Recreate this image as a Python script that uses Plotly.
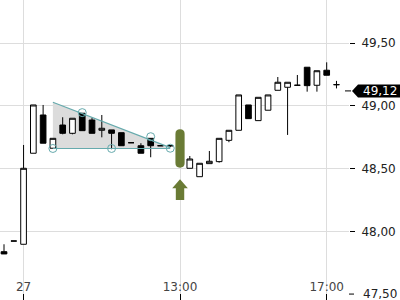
import plotly.graph_objects as go

# ---- data ----
idx = list(range(35))
opens  = [47.838, 47.923, 47.897, 48.623, 48.928, 48.663, 48.848, 48.782, 48.942, 48.888,
          48.806, 48.809, 48.787, 48.707, 48.683, 48.742, 48.683, 48.683, 48.663, 48.503,
          48.436, 48.540, 48.556, 48.726, 48.806, 49.008, 48.883, 48.966, 49.125, 49.149,
          49.165, 49.309, 49.165, 49.285, 49.170]
highs  = [47.897, 47.923, 48.689, 49.008, 49.008, 48.742, 48.910, 48.902, 48.942, 48.907,
          48.928, 48.809, 48.787, 48.707, 48.703, 48.742, 48.683, 48.683, 48.663, 48.601,
          48.543, 48.641, 48.742, 48.806, 49.088, 49.008, 49.069, 49.088, 49.231, 49.189,
          49.247, 49.309, 49.281, 49.348, 49.200]
lows   = [47.820, 47.923, 47.897, 48.623, 48.703, 48.663, 48.774, 48.774, 48.803, 48.782,
          48.750, 48.655, 48.683, 48.707, 48.623, 48.591, 48.683, 48.672, 48.663, 48.503,
          48.436, 48.540, 48.548, 48.711, 48.806, 48.899, 48.883, 48.966, 49.125, 48.769,
          49.165, 49.114, 49.114, 49.245, 49.140]
closes = [47.820, 47.923, 48.503, 49.008, 48.703, 48.742, 48.782, 48.902, 48.803, 48.782,
          48.822, 48.782, 48.683, 48.707, 48.623, 48.683, 48.683, 48.683, 48.663, 48.577,
          48.543, 48.559, 48.742, 48.806, 49.088, 48.899, 49.069, 49.088, 49.189, 49.189,
          49.165, 49.162, 49.281, 49.245, 49.170]

x_tick_pos = [2, 18, 33]
x_tick_text = ["27", "13:00", "17:00"]
y_ticks = [47.5, 48.0, 48.5, 49.0, 49.5]
edge_tick = 47.5
edge_tick_text = "47,50"

# pattern (triangle)
tri_top_x = [5, 17]
tri_top_y = [49.03, 48.668]
tri_bot_x = [5, 17]
tri_bot_y = [48.661, 48.661]
pivot_x = [5, 8, 11, 15, 17]
pivot_y = [48.661, 48.947, 48.661, 48.755, 48.663]

# signal
signal_idx = 18
signal_pill = [48.508, 48.814]
arrow_levels = [48.25, 48.344, 48.415]   # bottom, head base, tip
last_price = 49.12
last_price_text = "49,12"

TEAL = "#66aaad"
GREEN = "#6a7b35"
GRID = "#dddddd"
FONT = "DejaVu Sans"

fig = go.Figure()

# triangle fill, drawn between gridlines and traces
tri_path = (f"M {tri_top_x[0]},{tri_top_y[0]} L {tri_top_x[1]},{tri_top_y[1]} "
            f"L {tri_bot_x[1]},{tri_bot_y[1]} L {tri_bot_x[0]},{tri_bot_y[0]} Z")
fig.add_shape(type="path", path=tri_path, xref="x", yref="y",
              fillcolor="#dcdcdc", line=dict(width=0), layer="between")

fig.add_trace(go.Candlestick(
    x=idx, open=opens, high=highs, low=lows, close=closes,
    increasing=dict(line=dict(color="black", width=1), fillcolor="white"),
    decreasing=dict(line=dict(color="black", width=1), fillcolor="black"),
    whiskerwidth=0, hoverinfo="skip", showlegend=False))

fig.add_trace(go.Scatter(x=tri_top_x, y=tri_top_y, mode="lines",
                         line=dict(color=TEAL, width=1.2), hoverinfo="skip", showlegend=False))
fig.add_trace(go.Scatter(x=tri_bot_x, y=tri_bot_y, mode="lines",
                         line=dict(color=TEAL, width=1.2), hoverinfo="skip", showlegend=False))
fig.add_trace(go.Scatter(x=pivot_x, y=pivot_y, mode="markers",
                         marker=dict(symbol="circle-open", size=8, color=TEAL, line=dict(width=1)),
                         hoverinfo="skip", showlegend=False))

# signal pill (rounded rect)
xc = signal_idx
hw = 0.47
yb, yt = signal_pill
ry = 0.037
x0, x1 = xc - hw, xc + hw
pill = (f"M {x0},{yt-ry} Q {x0},{yt} {xc},{yt} Q {x1},{yt} {x1},{yt-ry} "
        f"L {x1},{yb+ry} Q {x1},{yb} {xc},{yb} Q {x0},{yb} {x0},{yb+ry} Z")
fig.add_shape(type="path", path=pill, xref="x", yref="y",
              fillcolor=GREEN, line=dict(width=0), layer="above")

# arrow
ab, ah, atip = arrow_levels
hh, sh = 0.8, 0.43
arrow = (f"M {xc},{atip} L {xc+hh},{ah} L {xc+sh},{ah} L {xc+sh},{ab} "
         f"L {xc-sh},{ab} L {xc-sh},{ah} L {xc-hh},{ah} Z")
fig.add_shape(type="path", path=arrow, xref="x", yref="y",
              fillcolor=GREEN, line=dict(width=0), layer="above")

# last price pointer label
fig.add_shape(type="path", xref="paper", yref="y", xsizemode="pixel", ysizemode="pixel",
              xanchor=1, yanchor=last_price,
              path="M 3,0 L 9,6.5 L 51,6.5 L 51,-6.5 L 9,-6.5 Z",
              fillcolor="black", line=dict(width=0))
fig.add_shape(type="path", xref="paper", yref="y", xsizemode="pixel", ysizemode="pixel",
              xanchor=1, yanchor=last_price,
              path="M -4,0 L 2,0", line=dict(color="black", width=1))
fig.add_annotation(x=1, xref="paper", y=last_price, yref="y", text=last_price_text,
                   showarrow=False, xanchor="left", xshift=12, yshift=0,
                   font=dict(color="white", size=12, family=FONT))

# bottom-edge tick label (plotly hides labels that overflow the page)
fig.add_annotation(x=1, xref="paper", y=edge_tick, yref="y", text=edge_tick_text,
                   showarrow=False, xanchor="left", yanchor="middle", xshift=12,
                   font=dict(color="#222", size=12, family=FONT))
fig.add_shape(type="path", xref="paper", yref="y", xsizemode="pixel", ysizemode="pixel",
              xanchor=1, yanchor=edge_tick,
              path="M 0,0 L 5,0", line=dict(color="black", width=1))

fig.update_layout(
    width=400, height=300,
    margin=dict(l=0, r=51, t=0, b=0),
    plot_bgcolor="white", paper_bgcolor="white",
    separators=",.",
    boxgap=0.42, boxgroupgap=0,
    font=dict(family=FONT, size=12, color="#222"),
    showlegend=False,
    xaxis=dict(range=[-0.41, 35.28], tickvals=x_tick_pos, ticktext=x_tick_text,
               showgrid=True, gridcolor=GRID, gridwidth=1,
               ticks="inside", ticklen=6, tickcolor="black",
               ticklabelposition="inside", ticklabelstandoff=0, showline=False,
               zeroline=False, rangeslider=dict(visible=False), fixedrange=True),
    yaxis=dict(range=[47.4527, 49.845], side="right", tickvals=y_ticks, tickformat=".2f",
               showgrid=True, gridcolor=GRID, gridwidth=1,
               ticks="outside", ticklen=5, tickcolor="black",
               ticklabelstandoff=4, ticklabeloverflow="allow",
               zeroline=False, showline=False, fixedrange=True),
)

fig.write_html("out.html")
